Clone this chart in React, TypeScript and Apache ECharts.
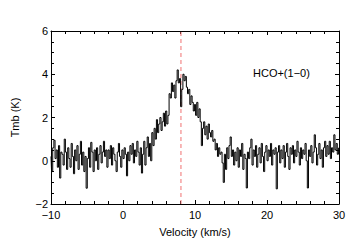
import React, { useEffect, useRef } from "react";
import * as echarts from "echarts";

const VELOCITY_START = -10;
const CHANNEL_WIDTH = 0.16;
const TMB: number[] = [
  0.2, -0.5, 0.6, 0.95, 0.1, 0.5, -0.3, 0.7, -0.8, 0.4,
  0.3, -0.2, 1.0, 0.4, -0.4, 0.6, 0.1, -0.3, 0.8, 0.2,
  -0.6, 0.5, 0.0, 0.7, -0.4, 0.3, 0.9, -0.2, 0.4, -0.5,
  0.2, -1.27, 0.1, 0.6, -0.3, 0.85, 0.4, -0.5, 0.5, 0.0,
  0.6, -0.4, 0.3, 0.7, -0.1, 0.4, 0.9, 0.2, 0.5, -0.3,
  0.5, 0.1, 0.7, -0.2, 0.6, 0.3, 0.0, -0.5, 0.4, 0.8,
  0.2, -0.3, 0.5, 0.1, 0.6, 0.3, -0.7, 0.4, 0.0, 0.7,
  0.3, 0.8, -0.1, 0.5, 0.2, 0.9, 0.4, -0.2, 0.6, -0.57,
  0.3, 0.9, -0.2, 0.6, 1.1, 0.2, 0.8, 0.0, 1.3, 0.7,
  1.5, 1.0, 1.9, 1.3, 1.7, 2.0, 1.4, 1.8, 2.2, 1.6,
  2.3, 1.7, 2.1, 3.1, 2.9, 3.6, 3.2, 3.5, 2.9, 3.7,
  4.2, 3.6, 3.8, 2.5, 3.3, 4.0, 3.7, 3.9, 3.4, 3.1,
  3.3, 2.6, 3.0, 2.7, 2.3, 2.6, 2.1, 2.7, 2.0, 2.4,
  1.8, 0.7, 1.5, 1.8, 1.2, 1.6, 1.0, 1.7, 1.3, 1.1,
  1.4, 0.9, 1.0, 0.5, 0.8, 0.2, 0.6, 0.3, 0.4, -0.1,
  -1.0, 0.3, -0.4, 0.6, 0.1, 0.7, 1.1, 0.2, 0.5, -0.2,
  0.4, 0.0, 0.6, -0.3, 0.5, 0.2, 0.8, -0.4, 0.3, 0.1,
  -1.26, 0.4, 0.1, 0.6, 1.0, -0.2, 0.5, 0.2, 0.7, -0.3,
  0.3, 0.6, -0.1, 0.8, 0.2, -0.5, 0.4, 0.7, 0.0, 0.5,
  0.2, 0.8, -0.2, 0.5, 0.3, 0.6, -1.3, 0.4, 0.7, -0.1,
  0.5, 0.1, 0.7, -0.3, 0.4, 0.8, 0.2, -0.4, 0.6, 0.3,
  0.7, -0.1, 0.5, 0.2, 0.9, 0.4, -0.2, 0.6, 0.1, 0.5,
  0.3, 0.8, 0.0, -1.26, 0.5, 0.2, 0.7, -0.1, 0.4, 1.2,
  0.6, -0.2, 0.3, 0.8, 0.1, 0.5, -0.3, 0.6, 0.9, 0.2,
  0.7, 0.3, 0.9, 0.1, 0.6, 0.4, 1.2, 0.5, 0.8, 0.3,
  0.6,
];
const X_TICKS = [-10, 0, 10, 20, 30];
const Y_TICKS = [-2, 0, 2, 4, 6];
const LINE_CENTER = 8.05;
const LINE_LABEL = "HCO+(1\u22120)";
const X_NAME = "Velocity (km/s)";
const Y_NAME = "Tmb (K)";

const FONT = "Liberation Sans, Arial, sans-serif";

export default function App() {
  const ref = useRef<HTMLDivElement>(null);
  useEffect(() => {
    if (!ref.current) return;
    const chart = echarts.init(ref.current, null, { renderer: "svg" });
    const data = TMB.map((t, i) => [VELOCITY_START + i * CHANNEL_WIDTH, t]);
    const xMin = X_TICKS[0];
    const xMax = X_TICKS[X_TICKS.length - 1];
    const yMin = Y_TICKS[0];
    const yMax = Y_TICKS[Y_TICKS.length - 1];
    const fmt = (v: number) => (v < 0 ? "\u2212" + Math.abs(v) : String(v));
    const axisCommon = {
      type: "value" as const,
      axisLine: { show: true, onZero: false, lineStyle: { color: "#000", width: 1 } },
      axisTick: { show: true, inside: true, length: 4, lineStyle: { color: "#000" } },
      minorTick: { show: true, length: 3, lineStyle: { color: "#000" } },
      splitLine: { show: false },
    };
    chart.setOption({
      animation: false,
      backgroundColor: "#fff",
      grid: { left: 51, right: 21, top: 31, bottom: 45, containLabel: false },
      xAxis: [
        {
          ...axisCommon,
          position: "bottom",
          min: xMin,
          max: xMax,
          interval: 10,
          minorTick: { ...axisCommon.minorTick, splitNumber: 5 },
          axisLabel: { show: true, color: "#000", fontSize: 11, fontFamily: FONT, margin: 5, formatter: fmt },
          name: X_NAME,
          nameLocation: "middle",
          nameGap: 22,
          nameTextStyle: { color: "#000", fontSize: 11, fontFamily: FONT },
        },
        {
          ...axisCommon,
          position: "top",
          min: xMin,
          max: xMax,
          interval: 10,
          minorTick: { ...axisCommon.minorTick, splitNumber: 5 },
          axisLabel: { show: false },
        },
      ],
      yAxis: [
        {
          ...axisCommon,
          position: "left",
          min: yMin,
          max: yMax,
          interval: 2,
          minorTick: { ...axisCommon.minorTick, splitNumber: 4 },
          axisLabel: { show: true, color: "#000", fontSize: 11, fontFamily: FONT, margin: 3, formatter: fmt },
          name: Y_NAME,
          nameLocation: "middle",
          nameRotate: 90,
          nameGap: 31,
          nameTextStyle: { color: "#000", fontSize: 11, fontFamily: FONT },
        },
        {
          ...axisCommon,
          position: "right",
          min: yMin,
          max: yMax,
          interval: 2,
          minorTick: { ...axisCommon.minorTick, splitNumber: 4 },
          axisLabel: { show: false },
        },
      ],
      series: [
        {
          type: "line",
          xAxisIndex: 0,
          yAxisIndex: 0,
          data: [
            [LINE_CENTER, yMin],
            [LINE_CENTER, yMax],
          ],
          showSymbol: false,
          symbol: "none",
          lineStyle: { color: "#f07070", type: [4, 3], width: 1 },
          z: 1,
        },
        {
          type: "line",
          xAxisIndex: 0,
          yAxisIndex: 0,
          step: "middle",
          showSymbol: false,
          symbol: "none",
          data,
          lineStyle: { color: "#000", width: 1 },
          z: 2,
        },
      ],
      graphic: [
        {
          type: "text",
          left: 253,
          top: 67,
          style: { text: LINE_LABEL, fill: "#000", fontSize: 11, fontFamily: FONT },
        },
      ],
    });
    return () => chart.dispose();
  }, []);
  return (
    <div
      ref={ref}
      style={{ position: "absolute", left: 0, top: 0, width: 360, height: 249, background: "#fff" }}
    />
  );
}
